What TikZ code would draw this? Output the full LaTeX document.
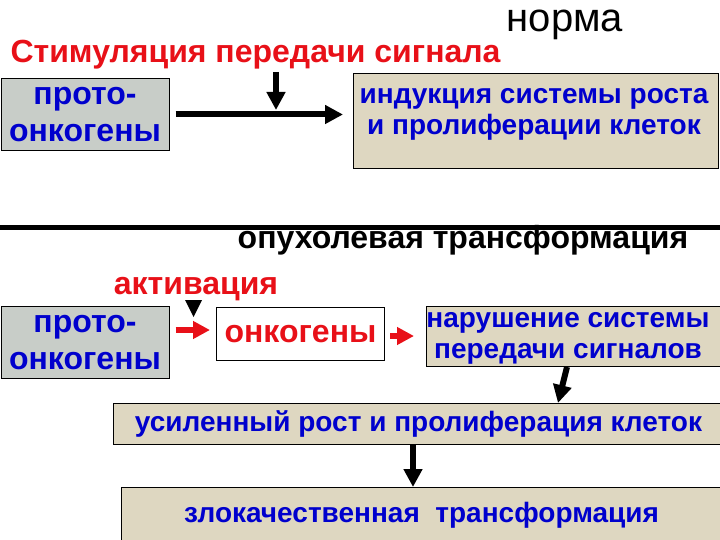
\documentclass[tikz,border=0pt]{standalone}
\usepackage{fontspec}
\setmainfont{Liberation Sans}
\usetikzlibrary{arrows.meta, positioning, calc}

\definecolor{sigred}{RGB}{232,16,24}
\definecolor{boxblue}{RGB}{0,0,205}
\definecolor{protogray}{RGB}{200,205,200}
\definecolor{notebeige}{RGB}{222,215,193}

\begin{document}
\begin{tikzpicture}[
  x=1pt, y=-1pt,
  box/.style={rectangle, draw, line width=1pt, anchor=north west, inner sep=0pt, align=center, text=boxblue, font=\bfseries\fontsize{28}{31}\selectfont},
  protobox/.style={box, fill=protogray, font=\bfseries\fontsize{32}{37}\selectfont},
  notebox/.style={box, fill=notebeige},
  boxtext/.style={align=center, text=boxblue, inner sep=0pt, font=\bfseries\fontsize{28}{31}\selectfont},
  heavy/.style={-{Triangle[length=18pt, width=18pt]}, line width=6pt},
  downarrow/.style={-{Triangle[length=18pt, width=18pt]}, line width=6pt},
  redarrow/.style={-{Triangle[length=17pt, width=17pt]}, line width=6pt, sigred},
  headline/.style={font=\bfseries\fontsize{32}{36}\selectfont}
]
\useasboundingbox (0,0) rectangle (720,540);

% normal signalling
\node[font=\fontsize{40}{44}\selectfont, anchor=base] (norma) at (565,32) {норма};
\node[headline, text=sigred, anchor=base west] (stim) at (7,63) {Стимуляция передачи сигнала};
\node[protobox, minimum width=168pt, minimum height=72pt] (proto1) at (0.5,78) {прото-\\онкогены};
\node[notebox, minimum width=365pt, minimum height=95pt] (induct) at (353,73) {};
\node[boxtext] (inducttext) at (534,114) {индукция системы роста\\и пролиферации клеток};
\coordinate (sigtop) at (276,72);
\coordinate (sigjoin) at (276,110);
\draw[heavy, shorten <=6pt, shorten >=10pt] (proto1.east) -- (proto1.east -| induct.west);
\draw[downarrow] (sigtop) -- (sigjoin);

% separator
\coordinate (sepl) at (0,228);
\coordinate (sepr) at (720,228);
\draw[line width=5pt] (sepl) -- (sepr);

% tumour transformation
\node[headline, anchor=base] (tumour) at (463,248) {опухолевая трансформация};
\node[headline, text=sigred, anchor=base] (activ) at (196,294) {активация};
\node[protobox, minimum width=168pt, minimum height=72pt] (proto2) at (0.5,306) {прото-\\онкогены};
\node[protobox, text=sigred, fill=white, minimum width=168pt, minimum height=53pt] (onco) at (216,307) {онкогены};
\node[notebox, minimum width=300pt, minimum height=60pt] (disrupt) at (426,306) {};
\node[boxtext] (disrupttext) at (568,338) {нарушение системы\\передачи сигналов};
\node[notebox, minimum width=610pt, minimum height=41pt] (growth) at (113,403) {усиленный рост и пролиферация клеток};
\node[notebox, minimum width=600pt, minimum height=55pt] (malig) at (121,487) {злокачественная\ \ трансформация};
\fill (185,300) -- (202,300) -- (193.5,317) -- cycle;
\draw[redarrow, shorten <=6pt, shorten >=6pt] (proto2.east |- 0,330) -- (onco.west |- 0,330);
\draw[redarrow, shorten <=5pt, shorten >=12pt] (onco.east |- 0,336) -- (disrupt.west |- 0,336);
\draw[downarrow] ($(disrupt.south west)+(141,0)$) -- ($(growth.north west)+(445,0)$);
\draw[downarrow] (growth.south -| 413,0) -- (malig.north -| 413,0);
\end{tikzpicture}
\end{document}
